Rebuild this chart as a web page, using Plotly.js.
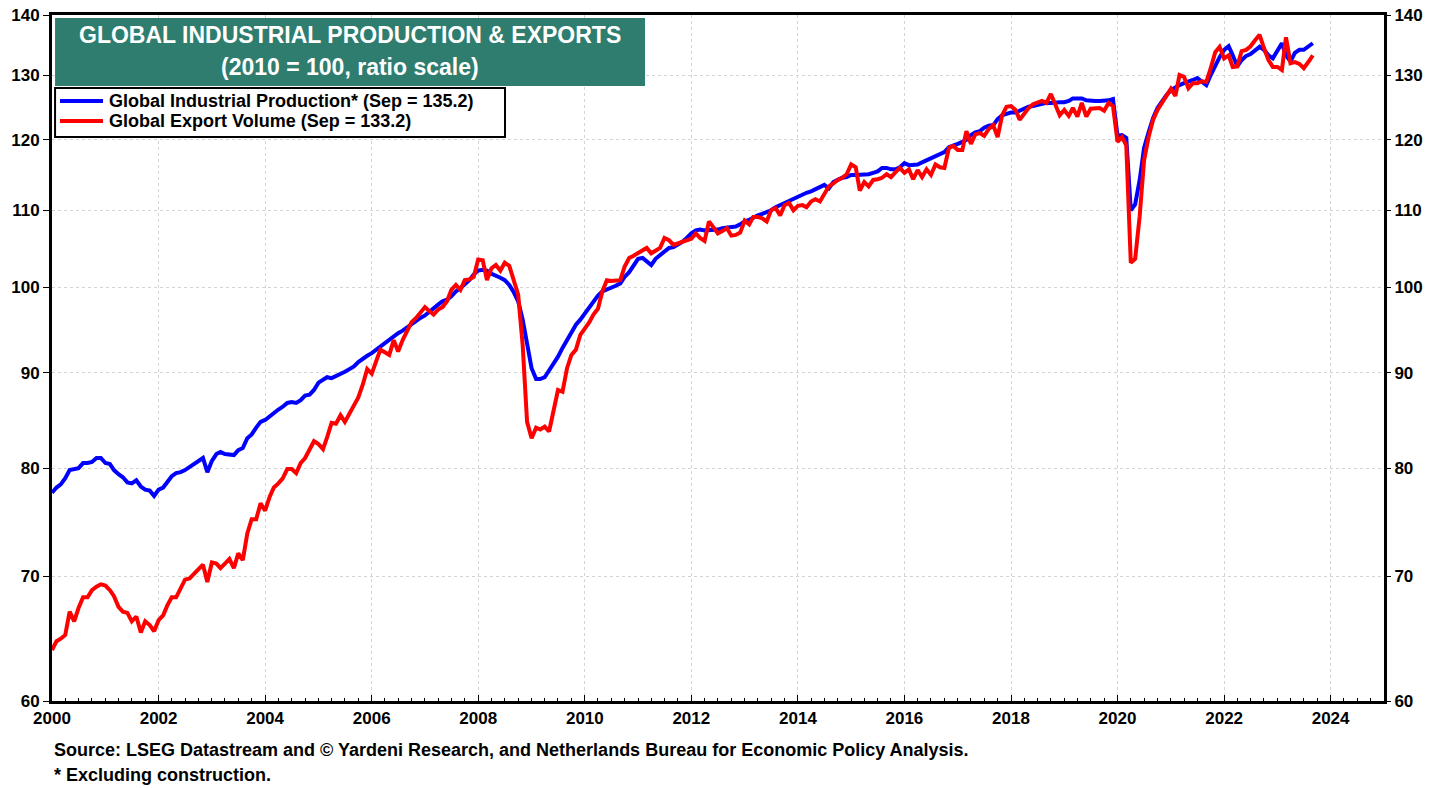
<!DOCTYPE html>
<html>
<head>
<meta charset="utf-8">
<script src="https://cdn.plot.ly/plotly-3.0.1.min.js"></script>
<style>
  html, body { margin: 0; padding: 0; background: #fff; }
  #chart { width: 1442px; height: 788px; }
</style>
</head>
<body>
<div id="chart"></div>
<script>
// monthly series, Jan 2000 .. Sep 2023 (2010 = 100)
const startYear = 2000;

const industrialProduction = [
  77.6, 78.1, 78.4, 79.0, 79.8, 79.9, 80.0, 80.5, 80.5, 80.6, 81.0, 81.0,
  80.5, 80.4, 79.8, 79.4, 79.1, 78.6, 78.5, 78.8, 78.2, 77.9, 77.8, 77.3,
  77.9, 78.1, 78.6, 79.2, 79.5, 79.6, 79.8, 80.1, 80.5, 80.8, 81.0, 79.6,
  80.7, 81.4, 81.6, 81.4, 81.3, 81.3, 81.8, 82.0, 83.0, 83.4, 84.1, 84.7,
  84.9, 85.3, 85.6, 86.0, 86.3, 86.7, 86.8, 86.7, 87.0, 87.5, 87.6, 88.1,
  88.9, 89.2, 89.5, 89.4, 89.6, 89.9, 90.1, 90.4, 90.7, 91.2, 91.6, 91.9,
  92.2, 92.6, 92.9, 93.3, 93.7, 94.1, 94.5, 94.8, 95.2, 95.6, 96.0, 96.3,
  96.6, 97.1, 97.4, 97.9, 98.3, 98.5, 98.9, 99.5, 99.9, 100.4, 100.9, 101.6,
  102.1, 102.2, 102.1, 101.7, 101.5, 101.2, 100.9, 100.3, 99.4, 98.3, 96.1, 93.1,
  90.5, 89.3, 89.3, 89.5, 90.2, 91.0, 91.8, 92.8, 93.7, 94.7, 95.5, 96.1,
  96.8, 97.5, 98.3, 99.0, 99.5, 99.7, 99.9, 100.2, 100.5, 101.3, 101.9, 102.7,
  103.6, 103.7, 103.2, 102.8, 103.6, 104.1, 104.6, 105.0, 105.1, 105.4, 105.8, 106.3,
  106.9, 107.3, 107.4, 107.3, 107.3, 107.4, 107.4, 107.6, 107.7, 107.7, 107.8, 108.1,
  108.5, 108.7, 109.0, 109.3, 109.5, 109.7, 110.0, 110.4, 110.7, 111.0, 111.2, 111.5,
  111.9, 112.1, 112.4, 112.6, 112.9, 113.2, 113.5, 113.0, 113.9, 114.2, 114.5, 114.6,
  114.9, 114.9, 114.9, 115.0, 115.0, 115.2, 115.4, 115.9, 115.9, 115.7, 115.7, 116.0,
  116.6, 116.3, 116.3, 116.4, 116.7, 117.0, 117.3, 117.6, 117.9, 118.2, 118.9, 119.1,
  119.4, 119.7, 120.0, 120.7, 121.1, 121.3, 121.8, 122.1, 122.2, 123.1, 123.7, 123.9,
  124.1, 124.1, 124.4, 124.8, 125.0, 125.1, 125.3, 125.4, 125.6, 125.6, 125.7, 125.7,
  125.7, 125.9, 126.3, 126.3, 126.3, 126.0, 125.9, 125.9, 125.9, 125.9, 126.0, 126.2,
  120.6, 120.7, 120.3, 110.0, 110.8, 114.2, 118.8, 121.1, 123.3, 124.8, 125.9, 126.8,
  127.6, 128.1, 128.4, 128.7, 128.9, 129.2, 129.5, 129.0, 128.4, 130.0, 131.6, 132.9,
  134.1, 134.7, 133.2, 131.4, 132.4, 133.1, 133.4, 134.1, 134.6, 134.1, 133.2, 132.7,
  134.1, 135.2, 133.2, 132.2, 133.6, 134.1, 134.1, 134.6, 135.2
];

const exportVolume = [
  63.9, 64.6, 64.8, 65.1, 67.0, 66.2, 67.3, 68.2, 68.2, 68.8, 69.1, 69.3,
  69.2, 68.8, 68.3, 67.4, 67.0, 66.9, 66.2, 66.6, 65.3, 66.2, 65.9, 65.4,
  66.3, 66.7, 67.5, 68.2, 68.2, 69.0, 69.7, 69.8, 70.2, 70.5, 71.0, 69.5,
  71.2, 71.1, 70.7, 71.1, 71.5, 70.7, 72.0, 71.4, 73.8, 75.1, 75.1, 76.6,
  75.9, 77.2, 78.1, 78.5, 79.0, 79.9, 79.9, 79.5, 80.5, 81.0, 81.8, 82.7,
  82.4, 81.9, 83.1, 84.6, 84.5, 85.4, 84.7, 85.6, 86.5, 87.3, 88.7, 90.4,
  89.9, 91.2, 92.6, 92.3, 92.0, 93.7, 92.4, 93.7, 94.9, 95.8, 96.3, 96.9,
  97.6, 97.1, 96.7, 97.3, 97.6, 98.3, 99.7, 100.3, 99.7, 100.9, 101.0, 101.3,
  103.5, 103.4, 100.9, 102.4, 102.8, 102.1, 103.1, 102.7, 100.9, 99.1, 93.1, 84.7,
  83.0, 84.1, 83.9, 84.2, 83.7, 85.8, 88.1, 87.9, 90.5, 92.0, 92.6, 94.3,
  95.0, 95.8, 96.7, 97.4, 99.5, 100.9, 100.8, 100.8, 100.9, 102.6, 103.7, 104.0,
  104.3, 104.6, 105.0, 104.3, 104.6, 105.0, 106.3, 106.0, 105.4, 105.6, 105.9, 106.0,
  106.2, 106.9, 106.3, 105.9, 108.5, 107.7, 106.9, 107.2, 107.6, 106.6, 106.7, 107.0,
  108.6, 108.1, 109.1, 109.1, 108.9, 108.5, 110.0, 110.3, 109.3, 110.7, 111.0, 110.0,
  110.6, 110.7, 110.4, 111.2, 111.5, 111.2, 112.3, 113.3, 113.7, 114.2, 114.5, 115.0,
  116.4, 116.0, 112.7, 113.9, 113.3, 114.2, 114.3, 114.5, 115.0, 114.6, 115.3, 115.9,
  115.2, 115.7, 114.3, 115.6, 114.6, 115.7, 114.9, 116.4, 116.0, 115.9, 118.8, 119.1,
  118.5, 118.5, 121.3, 119.4, 120.8, 121.0, 120.6, 121.6, 122.2, 120.4, 123.7, 125.0,
  125.1, 124.5, 123.0, 123.9, 124.8, 125.4, 125.7, 125.9, 125.6, 127.0, 125.3, 123.7,
  124.5, 123.6, 124.8, 123.5, 125.6, 123.5, 124.7, 124.8, 124.8, 124.4, 125.6, 125.1,
  119.7, 120.4, 119.2, 103.1, 103.6, 109.2, 117.0, 120.4, 123.0, 124.5, 125.7, 126.7,
  127.8, 126.7, 130.0, 129.7, 127.9, 128.7, 128.7, 129.0, 128.9, 131.1, 133.7, 134.6,
  132.7, 133.2, 131.3, 131.4, 133.9, 134.1, 134.7, 135.7, 136.6, 134.4, 132.4, 131.3,
  131.3, 130.8, 136.2, 131.9, 132.1, 131.8, 131.1, 132.1, 133.2
];

const yTicks = [60, 70, 80, 90, 100, 110, 120, 130, 140];
const seriesNames = [
  'Global Industrial Production* (Sep = 135.2)',
  'Global Export Volume (Sep = 133.2)'
];
const seriesColors = ['#0000ff', '#ff0000'];
const titleLines = ['GLOBAL INDUSTRIAL PRODUCTION & EXPORTS', '(2010 = 100, ratio scale)'];
const footnotes = [
  'Source: LSEG Datastream and © Yardeni Research, and Netherlands Bureau for Economic Policy Analysis.',
  '* Excluding construction.'
];

function monthDates(n) {
  const out = [];
  for (let i = 0; i < n; i++) {
    const y = startYear + Math.floor(i / 12);
    const m = (i % 12) + 1;
    out.push(`${y}-${String(m).padStart(2, '0')}-01`);
  }
  return out;
}

const dates = monthDates(industrialProduction.length);
const FONT = 'Liberation Sans, Arial, sans-serif';
const yRange = [Math.log10(60), Math.log10(140)];
const boldFont = (size, color) => ({ family: FONT, size: size, weight: 'bold', color: color || '#000' });

const traces = [
  {
    x: dates, y: industrialProduction, name: seriesNames[0],
    mode: 'lines', line: { color: seriesColors[0], width: 4 }
  },
  {
    x: dates, y: exportVolume, name: seriesNames[1],
    mode: 'lines', line: { color: seriesColors[1], width: 4 }
  },
  {
    // carries the right-hand axis only
    x: dates, y: industrialProduction, yaxis: 'y2',
    mode: 'lines', opacity: 0, showlegend: false, hoverinfo: 'skip',
    line: { width: 1 }
  }
];

// hand-made legend box (paper coords) to match the compact original
const legendRows = [0.8746, 0.8455];
const shapes = [
  {
    type: 'rect', xref: 'paper', yref: 'paper',
    x0: 0.0023, x1: 0.4452, y0: 0.8965, y1: 0.9956,
    fillcolor: '#2e7d6f', line: { width: 0 }, layer: 'above'
  },
  {
    type: 'rect', xref: 'paper', yref: 'paper',
    x0: 0.0023, x1: 0.3401, y0: 0.8222, y1: 0.8936,
    fillcolor: '#fff', line: { color: '#000', width: 2 }, layer: 'above'
  }
];
const annotations = [
  {
    xref: 'paper', yref: 'paper', x: 0.2237, y: 0.9715,
    text: titleLines[0], showarrow: false, xanchor: 'center', yanchor: 'middle',
    font: boldFont(23, '#fff')
  },
  {
    xref: 'paper', yref: 'paper', x: 0.2237, y: 0.9249,
    text: titleLines[1], showarrow: false, xanchor: 'center', yanchor: 'middle',
    font: boldFont(23, '#fff')
  },
  {
    xref: 'paper', yref: 'paper', x: 0, y: -0.0714,
    text: footnotes[0], showarrow: false, xanchor: 'left', yanchor: 'middle',
    font: boldFont(18)
  },
  {
    xref: 'paper', yref: 'paper', x: 0, y: -0.1079,
    text: footnotes[1], showarrow: false, xanchor: 'left', yanchor: 'middle',
    font: boldFont(18)
  }
];
seriesNames.forEach((name, i) => {
  shapes.push({
    type: 'line', xref: 'paper', yref: 'paper',
    x0: 0.006, x1: 0.0383, y0: legendRows[i], y1: legendRows[i],
    line: { color: seriesColors[i], width: 4 }, layer: 'above'
  });
  annotations.push({
    xref: 'paper', yref: 'paper', x: 0.0415, y: legendRows[i],
    text: name, showarrow: false, xanchor: 'left', yanchor: 'middle',
    font: boldFont(18)
  });
});

const layout = {
  width: 1442,
  height: 788,
  margin: { l: 52, r: 58, t: 15, b: 87 },
  paper_bgcolor: '#fff',
  plot_bgcolor: '#fff',
  font: { family: FONT, color: '#000' },
  showlegend: false,
  xaxis: {
    type: 'date',
    range: ['2000-01-01', '2025-01-01'],
    tick0: '2000-01-01',
    dtick: 'M24',
    tickformat: '%Y',
    ticks: 'inside',
    ticklen: 6,
    tickwidth: 1,
    tickcolor: '#000',
    tickfont: boldFont(17),
    showline: true, linecolor: '#000', linewidth: 3, mirror: true,
    showgrid: true, gridcolor: '#d4d4d4', griddash: 'dot', gridwidth: 1,
    minor: { dtick: 'M3', ticks: 'inside', ticklen: 3, tickcolor: '#000', showgrid: false },
    zeroline: false
  },
  yaxis: {
    type: 'log',
    range: yRange,
    tickvals: yTicks,
    ticktext: yTicks.map(String),
    ticks: 'outside',
    ticklen: 6,
    tickcolor: '#000',
    tickfont: boldFont(17),
    showline: true, linecolor: '#000', linewidth: 3, mirror: true,
    showgrid: true, gridcolor: '#d4d4d4', griddash: 'dot', gridwidth: 1,
    zeroline: false
  },
  yaxis2: {
    type: 'log',
    overlaying: 'y',
    side: 'right',
    range: yRange,
    tickvals: yTicks,
    ticktext: yTicks.map(String),
    ticks: 'outside',
    ticklen: 6,
    tickcolor: '#000',
    tickfont: boldFont(17),
    showgrid: false,
    showline: false,
    zeroline: false
  },
  shapes: shapes,
  annotations: annotations
};

Plotly.newPlot('chart', traces, layout, { displayModeBar: false, staticPlot: true });
</script>
</body>
</html>
